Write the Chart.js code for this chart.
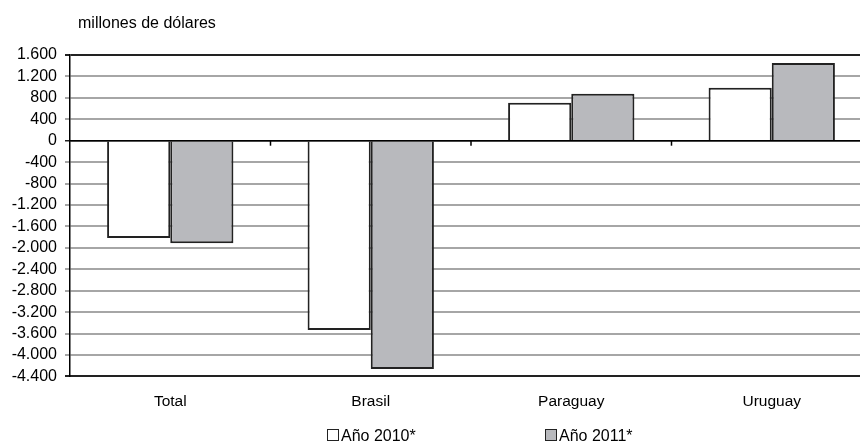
<!DOCTYPE html>
<html>
<head>
<meta charset="utf-8">
<script src="https://cdn.jsdelivr.net/npm/chart.js@4.4.0/dist/chart.umd.min.js"></script>
<style>
  html, body { margin: 0; padding: 0; background: #fff; overflow: hidden; }
  #wrap { position: relative; width: 880px; height: 445px; }
  #unidad { position: absolute; left: 78px; top: 14px; font: 16px "Liberation Sans", Arial, sans-serif; color: #000; line-height: 18px; }
  #leyenda { position: absolute; top: 427px; left: 0; width: 880px; font: 16px "Liberation Sans", Arial, sans-serif; color: #000; }
  .item { position: absolute; white-space: nowrap; line-height: 18px; }
  .caja { display: inline-block; width: 10px; height: 10px; border: 1px solid #222; margin-right: 2px; vertical-align: 0px; }
</style>
</head>
<body>
<div id="wrap">
  <div id="unidad">millones de dólares</div>
  <canvas id="grafico"></canvas>
  <div id="leyenda"></div>
</div>
<script>
const categorias = ["Total", "Brasil", "Paraguay", "Uruguay"];
const serie2010 = [-1815, -3535, 710, 990];
const serie2011 = [-1915, -4260, 875, 1450];
const etiquetas = ["Año 2010*", "Año 2011*"];
const colores = ["#ffffff", "#b8b9bd"];
const yMin = -4400;
const yMax = 1600;
const yPaso = 400;

// separador de miles con punto
const fmtNum = (v) => {
  const s = String(Math.abs(v)).replace(/\B(?=(\d{3})+(?!\d))/g, ".");
  return (v < 0 ? "-" : "") + s;
};

Chart.defaults.font.family = '"Liberation Sans", Arial, sans-serif';
Chart.defaults.font.size = 16;
Chart.defaults.color = "#000";

// linea del cero y marcas de categoria
const marcasCero = {
  id: "marcasCero",
  afterDatasetsDraw(chart) {
    const x = chart.scales.x, y = chart.scales.y;
    const area = chart.chartArea;
    const y0 = y.getPixelForValue(0);
    const ctx = chart.ctx;
    ctx.save();
    ctx.strokeStyle = "#000";
    ctx.lineWidth = 1.5;
    ctx.beginPath();
    ctx.moveTo(area.left, y0);
    ctx.lineTo(area.right, y0);
    ctx.stroke();
    for (let i = 1; i < categorias.length; i++) {
      const xm = (x.getPixelForValue(i - 1) + x.getPixelForValue(i)) / 2;
      ctx.beginPath();
      ctx.moveTo(xm, y0);
      ctx.lineTo(xm, y0 + 5);
      ctx.stroke();
    }
    ctx.restore();
  }
};

new Chart(document.getElementById("grafico"), {
  type: "bar",
  data: {
    labels: categorias,
    datasets: [
      { label: etiquetas[0], data: serie2010, backgroundColor: colores[0], borderColor: "#222", borderWidth: 2, borderSkipped: "start" },
      { label: etiquetas[1], data: serie2011, backgroundColor: colores[1], borderColor: "#222", borderWidth: 2, borderSkipped: "start" }
    ]
  },
  plugins: [marcasCero],
  options: {
    responsive: true,
    maintainAspectRatio: false,
    animation: false,
    layout: { padding: { top: 55, left: 0, right: 8, bottom: 18 } },
    datasets: { bar: { categoryPercentage: 0.63, barPercentage: 1 } },
    plugins: {
      tooltip: { enabled: false },
      legend: { display: false }
    },
    scales: {
      x: {
        offset: true,
        grid: { display: false, drawTicks: false },
        border: { display: true, color: "#222", width: 2 },
        ticks: { padding: 16, font: { size: 15.5 } }
      },
      y: {
        min: yMin,
        max: yMax,
        afterFit(scale) { scale.width = 70; },
        ticks: {
          stepSize: yPaso,
          autoSkip: false,
          padding: 8,
          callback: (v) => fmtNum(v)
        },
        grid: {
          tickLength: 5,
          color: (c) => (c.tick && (c.tick.value === 0 || c.tick.value === yMax || c.tick.value === yMin)) ? "#222" : "#a6a6a6",
          lineWidth: (c) => (c.tick && c.tick.value === 0) ? 1.5 : 2
        },
        border: { display: true, color: "#000", width: 1.5 }
      }
    }
  }
});

// leyenda
const posLeyenda = [327, 545];
const leyenda = document.getElementById("leyenda");
etiquetas.forEach((t, i) => {
  const it = document.createElement("div");
  it.className = "item";
  it.style.left = posLeyenda[i] + "px";
  const caja = document.createElement("span");
  caja.className = "caja";
  caja.style.background = colores[i];
  it.appendChild(caja);
  it.appendChild(document.createTextNode(t));
  leyenda.appendChild(it);
});
</script>
</body>
</html>
